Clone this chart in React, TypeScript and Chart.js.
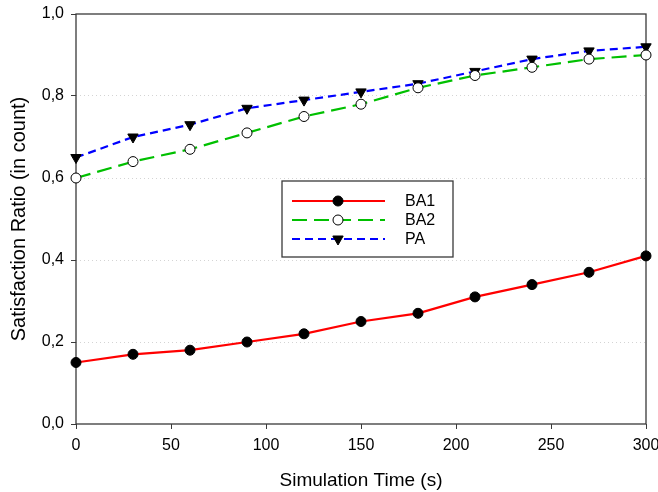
import React, { useEffect, useRef } from "react";
import { Chart, registerables } from "chart.js";

Chart.register(...registerables);

const times = [0, 30, 60, 90, 120, 150, 180, 210, 240, 270, 300];
const ba1 = [0.15, 0.17, 0.18, 0.2, 0.22, 0.25, 0.27, 0.31, 0.34, 0.37, 0.41];
const ba2 = [0.6, 0.64, 0.67, 0.71, 0.75, 0.78, 0.82, 0.85, 0.87, 0.89, 0.9];
const pa = [0.65, 0.7, 0.73, 0.77, 0.79, 0.81, 0.83, 0.86, 0.89, 0.91, 0.92];
const seriesNames = ["BA1", "BA2", "PA"];
const yTickLabels = ["0,0", "0,2", "0,4", "0,6", "0,8", "1,0"];
const xTickLabels = ["0", "50", "100", "150", "200", "250", "300"];

const FONT = "'Liberation Sans', Arial, sans-serif";

const boxPlugin = {
  id: "frameBox",
  beforeDatasetsDraw(chart: any) {
    const { ctx, chartArea } = chart;
    ctx.save();
    ctx.strokeStyle = "#3a3a3a";
    ctx.lineWidth = 1.3;
    ctx.strokeRect(chartArea.left, chartArea.top, chartArea.right - chartArea.left, chartArea.bottom - chartArea.top);
    ctx.restore();
  },
};

function drawMarker(ctx: CanvasRenderingContext2D, ds: any, x: number, y: number) {
  ctx.save();
  ctx.setLineDash([]);
  ctx.lineWidth = ds.pointBorderWidth;
  ctx.strokeStyle = ds.pointBorderColor;
  ctx.fillStyle = ds.pointBackgroundColor;
  const r = ds.pointRadius;
  ctx.beginPath();
  if (ds.pointStyle === "triangle") {
    let rad = Math.PI; // rotated 180
    ctx.moveTo(x + Math.sin(rad) * r, y - Math.cos(rad) * r);
    rad += (2 * Math.PI) / 3;
    ctx.lineTo(x + Math.sin(rad) * r, y - Math.cos(rad) * r);
    rad += (2 * Math.PI) / 3;
    ctx.lineTo(x + Math.sin(rad) * r, y - Math.cos(rad) * r);
    ctx.closePath();
  } else {
    ctx.arc(x, y, r, 0, Math.PI * 2);
  }
  ctx.fill();
  ctx.stroke();
  ctx.restore();
}

const legendPlugin = {
  id: "boxLegend",
  afterDatasetsDraw(chart: any) {
    const { ctx } = chart;
    const x0 = 282, y0 = 181, w = 171, h = 76;
    ctx.save();
    ctx.fillStyle = "#ffffff";
    ctx.fillRect(x0, y0, w, h);
    ctx.strokeStyle = "#3a3a3a";
    ctx.lineWidth = 1.3;
    ctx.strokeRect(x0, y0, w, h);
    chart.data.datasets.forEach((ds: any, i: number) => {
      const y = 201 + i * 19;
      ctx.save();
      ctx.setLineDash(ds.borderDash || []);
      ctx.strokeStyle = ds.borderColor;
      ctx.lineWidth = ds.borderWidth;
      ctx.beginPath();
      ctx.moveTo(292, y);
      ctx.lineTo(385, y);
      ctx.stroke();
      ctx.restore();
      drawMarker(ctx, ds, 338, y);
      ctx.fillStyle = "#000";
      ctx.font = `16px ${FONT}`;
      ctx.textBaseline = "middle";
      ctx.textAlign = "left";
      ctx.fillText(ds.label, 405, y + 1);
    });
    ctx.restore();
  },
};

export default function App() {
  const ref = useRef<HTMLCanvasElement>(null);
  useEffect(() => {
    const toXY = (arr: number[]) => arr.map((v, i) => ({ x: times[i], y: v }));
    const chart = new Chart(ref.current!, {
      type: "line",
      data: {
        datasets: [
          {
            label: seriesNames[0],
            data: toXY(ba1),
            borderColor: "#ff0000",
            borderWidth: 2.2,
            borderDash: [],
            pointStyle: "circle",
            pointRadius: 5,
            pointBackgroundColor: "#000000",
            pointBorderColor: "#000000",
            pointBorderWidth: 1,
            clip: false,
          },
          {
            label: seriesNames[1],
            data: toXY(ba2),
            borderColor: "#00c000",
            borderWidth: 2.2,
            borderDash: [15, 7],
            pointStyle: "circle",
            pointRadius: 5,
            pointBackgroundColor: "#ffffff",
            pointBorderColor: "#000000",
            pointBorderWidth: 1,
            clip: false,
          },
          {
            label: seriesNames[2],
            data: toXY(pa),
            borderColor: "#0000ff",
            borderWidth: 2.2,
            borderDash: [8, 5],
            pointStyle: "triangle",
            pointRotation: 180,
            pointRadius: 6,
            pointBackgroundColor: "#000000",
            pointBorderColor: "#000000",
            pointBorderWidth: 1,
            clip: false,
          } as any,
        ],
      },
      options: {
        responsive: false,
        animation: false,
        layout: { padding: { left: 0, top: 14, right: 12, bottom: 0 } },
        plugins: { legend: { display: false }, tooltip: { enabled: false } },
        elements: { line: { tension: 0 } },
        scales: {
          x: {
            type: "linear",
            min: 0,
            max: 300,
            afterFit: (s: any) => {
              s.height = 68;
              s.paddingLeft = 0;
              s.paddingRight = 0;
            },
            afterBuildTicks: (s: any) => { s.ticks = xTickLabels.map((t) => ({ value: Number(t) })); },
            ticks: {
              padding: 7,
              color: "#000",
              font: { family: FONT, size: 16 },
              maxRotation: 0,
              autoSkip: false,
              callback: (_v: any, i: number) => xTickLabels[i],
            },
            grid: {
              drawOnChartArea: false,
              drawTicks: true,
              tickLength: 5,
              tickColor: "#3a3a3a",
              tickWidth: 1,
              tickBorderDash: [],
            },
            border: { display: false },
            title: {
              display: true,
              text: "Simulation Time (s)",
              color: "#000",
              font: { family: FONT, size: 19 },
              padding: { top: 0, bottom: 0 },
            },
          },
          y: {
            type: "linear",
            min: 0,
            max: 1,
            afterFit: (s: any) => {
              s.width = 76;
              s.paddingTop = 0;
              s.paddingBottom = 0;
            },
            afterBuildTicks: (s: any) => { s.ticks = yTickLabels.map((t) => ({ value: Number(t.replace(",", ".")) })); },
            ticks: {
              padding: 7,
              color: "#000",
              font: { family: FONT, size: 16 },
              autoSkip: false,
              callback: (_v: any, i: number) => yTickLabels[i],
            },
            grid: {
              drawOnChartArea: true,
              drawTicks: true,
              tickLength: 5,
              color: (c: any) => (c.index === 0 || c.index === yTickLabels.length - 1 ? "rgba(0,0,0,0)" : "#d4d4d4"),
              lineWidth: 1,
              tickColor: "#3a3a3a",
              tickWidth: 1,
              tickBorderDash: [],
            },
            border: { display: false, dash: [1, 3] },
            title: {
              display: true,
              text: "Satisfaction Ratio (in count)",
              color: "#000",
              font: { family: FONT, size: 20 },
              padding: { top: 7, bottom: 0 },
            },
          },
        },
      },
      plugins: [boxPlugin, legendPlugin],
    } as any);
    return () => chart.destroy();
  }, []);
  return (
    <div style={{ position: "absolute", left: 0, top: 0, width: 658, height: 492, background: "#fff" }}>
      <canvas ref={ref} width={658} height={492} style={{ display: "block" }} />
    </div>
  );
}
